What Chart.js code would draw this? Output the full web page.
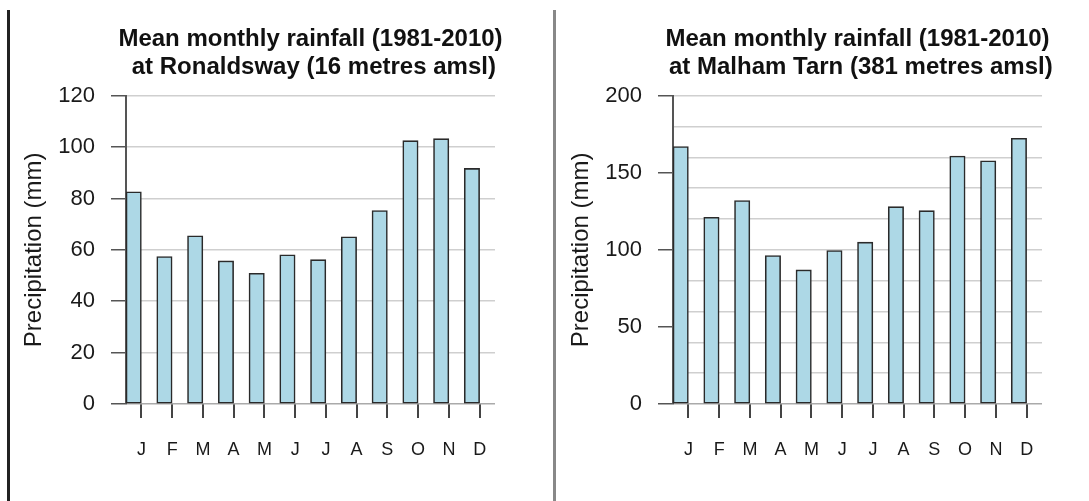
<!DOCTYPE html>
<html>
<head>
<meta charset="utf-8">
<script src="https://cdn.jsdelivr.net/npm/chart.js@4.4.1/dist/chart.umd.min.js"></script>
<style>
  html, body { margin: 0; padding: 0; background: #fff; width: 1089px; height: 501px; overflow: hidden; position: relative; }
  .divider { position: absolute; top: 10px; bottom: 0; width: 3px; }
  canvas { position: absolute; top: 0; }
</style>
</head>
<body>
<div class="divider" style="left:7px; background:#222"></div>
<div class="divider" style="left:553px; background:#888"></div>
<!-- canvases are wider than their half of the page so the title can be centred over the plot;
     the spare room on the right is empty and transparent -->
<canvas id="ronaldsway" width="621" height="501" style="left:0"></canvas>
<canvas id="malham" width="621" height="501" style="left:547px"></canvas>
<script>
// month initials used on both x axes
const months = ['J', 'F', 'M', 'A', 'M', 'J', 'J', 'A', 'S', 'O', 'N', 'D'];

// mean monthly rainfall 1981-2010, mm
const ronaldswayRain = [82.6, 57.4, 65.5, 55.7, 50.9, 58.1, 56.2, 65.1, 75.3, 102.5, 103.3, 91.7];
const malhamRain = [167.0, 121.1, 132.0, 96.3, 87.0, 99.6, 105.0, 128.0, 125.4, 160.9, 157.8, 172.4];

const ronaldswayTitle = ['Mean monthly rainfall (1981-2010)', ' at Ronaldsway (16 metres amsl)'];
const malhamTitle = ['Mean monthly rainfall (1981-2010)', ' at Malham Tarn (381 metres amsl)'];

const yTitle = 'Precipitation (mm)';
const FONT = '"Liberation Sans", Arial, Helvetica, sans-serif';

function buildChart(canvasId, titleLines, values, yMax, tickStep, gridEvery, labelEvery) {
  const canvas = document.getElementById(canvasId);

  return new Chart(canvas, {
    type: 'bar',
    data: {
      labels: months,
      datasets: [
        {
          data: values,
          backgroundColor: '#add8e6',
          borderColor: '#2a2a2a',
          borderWidth: 1.6,
          borderSkipped: false,
        },
        // empty second dataset: keeps each bar on the left half of its slot,
        // so the tick mark lines up with the right edge of the bar like the original
        { data: [] },
      ],
    },
    options: {
      responsive: false,
      animation: false,
      events: [],
      layout: { padding: 0 },
      datasets: {
        bar: { categoryPercentage: 1, barPercentage: 1 },
      },
      plugins: {
        legend: { display: false },
        tooltip: { enabled: false },
        title: {
          display: true,
          text: titleLines,
          color: '#111',
          font: { family: FONT, size: 24, weight: 'bold', lineHeight: 1.1667 },
          padding: { top: 25, bottom: 14.7 },
        },
      },
      scales: {
        x: {
          offset: true,
          border: { display: false },
          grid: {
            offset: false,
            drawOnChartArea: false,
            drawTicks: true,
            tickLength: 14,
            color: '#444',
            lineWidth: 2,
          },
          ticks: {
            color: '#1a1a1a',
            padding: 21,
            autoSkip: false,
            maxRotation: 0,
            font: { family: FONT, size: 18 },
          },
          afterFit: (scale) => { scale.height = 97; },
        },
        y: {
          min: 0,
          max: yMax,
          border: { display: true, color: '#555', width: 2 },
          grid: {
            lineWidth: 1.5,
            tickLength: 15,
            color: (c) => (c.tick && c.tick.value === 0 ? '#aaa'
              : c.tick && c.tick.value % gridEvery === 0 ? '#cfcfcf' : 'rgba(0,0,0,0)'),
            tickColor: (c) => (c.tick && c.tick.value % labelEvery === 0 ? '#555' : 'rgba(0,0,0,0)'),
          },
          ticks: {
            stepSize: tickStep,
            maxTicksLimit: 40,
            autoSkip: false,
            padding: 16,
            color: '#1a1a1a',
            font: { family: FONT, size: 22 },
            callback: (v) => (v % labelEvery === 0 ? v : ''),
          },
          title: {
            display: true,
            text: yTitle,
            color: '#1a1a1a',
            font: { family: FONT, size: 24 },
            padding: { top: 20, bottom: 0 },
          },
          afterFit: (scale) => { scale.width = 126; },
        },
        // blank spacer on the right, same width as the left axis,
        // so the full-width title ends up centred over the bars
        spacer: {
          type: 'linear',
          position: 'right',
          grid: { display: false },
          ticks: { display: false },
          border: { display: false },
          afterFit: (scale) => { scale.width = 126; },
        },
      },
    },
  });
}

buildChart('ronaldsway', ronaldswayTitle, ronaldswayRain, 120, 20, 20, 20);
buildChart('malham', malhamTitle, malhamRain, 200, 10, 20, 50);
</script>
</body>
</html>
